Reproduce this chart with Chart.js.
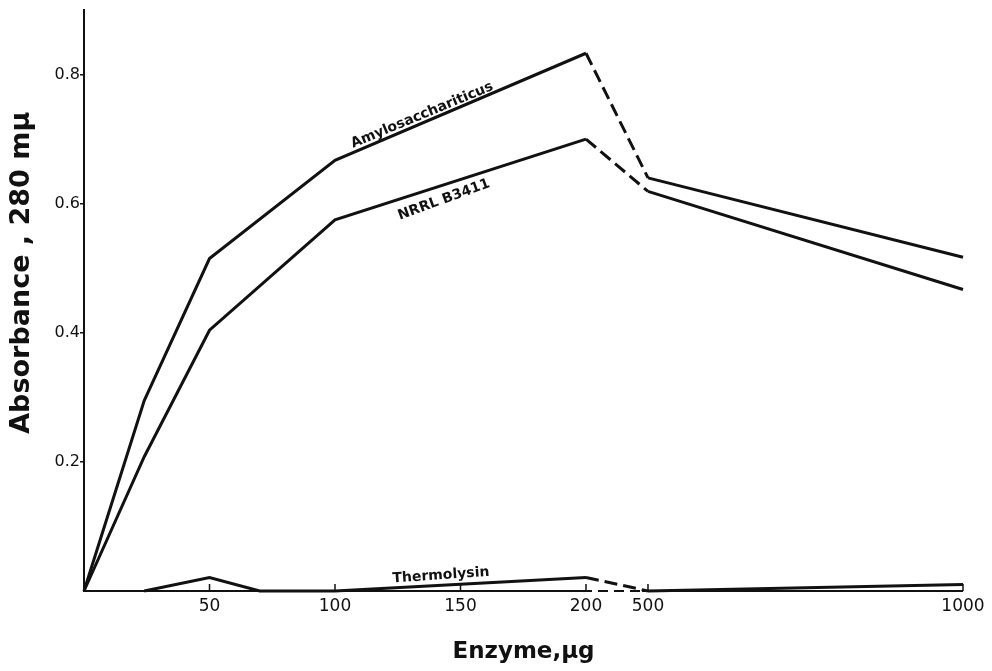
<!DOCTYPE html>
<html><head><meta charset="utf-8">
<script src="https://cdn.jsdelivr.net/npm/chart.js@4.4.1/dist/chart.umd.min.js"></script>
<style>html,body{margin:0;padding:0;background:#fff}canvas{display:block}</style>
</head><body>
<canvas id="c" width="992" height="671"></canvas>
<script>
// ---- data ----
const doseUg       = [0, 24, 50, 100, 200, 500, 1000];
const amyloAbs     = [0, 0.295, 0.515, 0.667, 0.833, 0.640, 0.517];
const nrrlAbs      = [0, 0.208, 0.404, 0.575, 0.700, 0.619, 0.467];
const thermoDoseUg = [24, 50, 70, 100, 200, 500, 1000];
const thermoAbs    = [0, 0.021, 0, 0, 0.021, 0, 0.010];
const xTickValues  = [50, 100, 150, 200, 500, 1000];
const xTickLabels  = ['50', '100', '150', '200', '500', '1000'];
const yTickValues  = [0.2, 0.4, 0.6, 0.8];
const seriesNames  = ['Amylosacchariticus', 'NRRL B3411', 'Thermolysin'];
const xTitle = 'Enzyme,\u03bcg';
const yTitle = 'Absorbance , 280 m\u03bc';

// ---- broken x axis: 0–200 linear, then 500–1000 compressed ----
const BREAK_LO = 200, BREAK_HI = 500, GAP = 24.7, K = 0.251;
function pos(v) { return v <= BREAK_LO ? v : BREAK_LO + GAP + (v - BREAK_HI) * K; }

const INK = '#111';
const FONT = "'DejaVu Sans', sans-serif";

const labelSpots = [
  { text: seriesNames[0], x: 134.7, y: 0.737, angle: -22.5 },
  { text: seriesNames[1], x: 143.4, y: 0.606, angle: -20 },
  { text: seriesNames[2], x: 142.2, y: 0.024, angle: -4 }
];

function dashBreak(ctx) {
  return (ctx.p0.parsed.x === pos(BREAK_LO) && ctx.p1.parsed.x === pos(BREAK_HI)) ? [13, 6] : undefined;
}
function series(xs, ys) { return xs.map((d, i) => ({ x: pos(d), y: ys[i] })); }
function ds(label, xs, ys) {
  return {
    label, data: series(xs, ys), borderColor: INK, borderWidth: 3,
    pointRadius: 0, tension: 0, fill: false, clip: false,
    segment: { borderDash: dashBreak }
  };
}

const decor = {
  id: 'decor',
  beforeDatasetsDraw(chart) {
    const { ctx, scales: { x, y }, chartArea: a } = chart;
    const yb = y.getPixelForValue(0);
    const x1 = x.getPixelForValue(pos(BREAK_LO)), x2 = x.getPixelForValue(pos(BREAK_HI));
    ctx.save();
    ctx.strokeStyle = INK; ctx.lineWidth = 2; ctx.lineCap = 'butt';
    ctx.beginPath(); ctx.moveTo(a.left - 1, yb); ctx.lineTo(x1 + 6, yb); ctx.stroke();
    ctx.beginPath(); ctx.moveTo(x2 - 6, yb); ctx.lineTo(a.right, yb); ctx.stroke();
    ctx.setLineDash([10, 6]);
    ctx.beginPath(); ctx.moveTo(x1 + 12, yb); ctx.lineTo(x2 - 6, yb); ctx.stroke();
    ctx.setLineDash([]);
    ctx.lineWidth = 1.5;
    xTickValues.forEach(v => {
      const px = x.getPixelForValue(pos(v));
      ctx.beginPath(); ctx.moveTo(px, yb); ctx.lineTo(px, yb - 7); ctx.stroke();
    });
    ctx.restore();
  },
  afterDatasetsDraw(chart) {
    const { ctx, scales: { x, y }, chartArea: a } = chart;
    ctx.save();
    ctx.fillStyle = INK;
    ctx.textAlign = 'center'; ctx.textBaseline = 'middle';
    ctx.font = 'bold 14px ' + FONT;
    labelSpots.forEach(s => {
      ctx.save();
      ctx.translate(x.getPixelForValue(s.x), y.getPixelForValue(s.y));
      ctx.rotate(s.angle * Math.PI / 180);
      ctx.fillText(s.text, 0, 0);
      ctx.restore();
    });
    // y axis title
    ctx.font = 'bold 27px ' + FONT;
    ctx.translate(22, y.getPixelForValue(0.493));
    ctx.rotate(-Math.PI / 2);
    ctx.fillText(yTitle, 0, 0);
    ctx.restore();
  }
};

new Chart(document.getElementById('c'), {
  type: 'line',
  data: {
    datasets: [
      ds(seriesNames[0], doseUg, amyloAbs),
      ds(seriesNames[1], doseUg, nrrlAbs),
      ds(seriesNames[2], thermoDoseUg, thermoAbs)
    ]
  },
  plugins: [decor],
  options: {
    responsive: false, animation: false, devicePixelRatio: 1,
    layout: { padding: { top: 10, right: 29, left: 0, bottom: 0 } },
    plugins: { legend: { display: false }, tooltip: { enabled: false } },
    scales: {
      x: {
        type: 'linear', min: 0, max: pos(1000),
        afterBuildTicks: s => { s.ticks = xTickValues.map(v => ({ value: pos(v) })); },
        afterFit: s => { s.height = 80; },
        grid: { display: false, drawTicks: false },
        border: { display: false },
        ticks: {
          autoSkip: false, maxRotation: 0, padding: 5, color: INK,
          font: { family: FONT, size: 17 },
          callback: (v, i) => xTickLabels[i]
        },
        title: {
          display: true, text: xTitle, color: INK,
          font: { family: FONT, size: 23, weight: 'bold' },
          padding: { top: 0, bottom: 5 }
        }
      },
      y: {
        type: 'linear', min: 0, max: 0.9,
        afterBuildTicks: s => { s.ticks = yTickValues.map(v => ({ value: v })); },
        afterFit: s => { s.width = 84; },
        grid: { drawOnChartArea: false, drawTicks: true, tickLength: 4, color: INK, lineWidth: 1.5 },
        border: { display: true, color: INK, width: 2 },
        ticks: {
          padding: 0, color: INK,
          font: { family: FONT, size: 16 },
          callback: v => v.toFixed(1)
        }
      }
    }
  }
});
</script>
</body></html>
